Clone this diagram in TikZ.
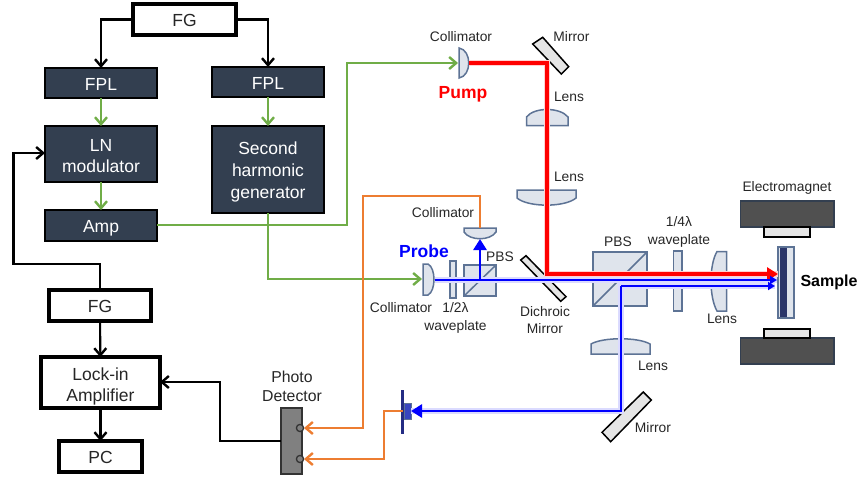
\documentclass[tikz,border=0pt]{standalone}
\usepackage{fontspec}
\setmainfont{Liberation Sans}
\usetikzlibrary{arrows.meta,calc}
\definecolor{boxdark}{HTML}{333F50}
\definecolor{optfill}{HTML}{DFE4EC}
\definecolor{optline}{HTML}{5D7395}
\definecolor{txt}{HTML}{262626}
\definecolor{gr}{HTML}{70AD47}
\definecolor{orng}{HTML}{ED7D31}
\definecolor{magnet}{HTML}{505050}
\definecolor{bluebeam}{HTML}{0000FF}
\definecolor{redbeam}{HTML}{FF0000}
\newcommand{\fs}[1]{\fontsize{#1}{#1}\selectfont}
\tikzset{
  barb/.style={-{Straight Barb[length=7pt,width=12pt,line width=2.4pt]}},
  darkbox/.style={draw=black,line width=1.5pt,fill=boxdark,text=white,align=center,inner sep=0pt,outer sep=0pt,font=\fs{17.5},execute at begin node=\setlength{\baselineskip}{21.7pt}},
  whitebox/.style={draw=black,line width=3.2pt,fill=white,text=txt,align=center,inner sep=0pt,outer sep=0pt,font=\fs{17.5},execute at begin node=\setlength{\baselineskip}{21pt}},
  oneline/.style={text height=14pt,text depth=0pt},
  lbl/.style={text=txt,align=center,inner sep=0pt,font=\fs{13.8},execute at begin node=\setlength{\baselineskip}{17.5pt}},
  blk/.style={draw=black,line width=2.1pt},
  grn/.style={draw=gr,line width=2.6pt},
  org/.style={draw=orng,line width=2.6pt},
  opt/.style={draw=optline,fill=optfill,line width=1.5pt},
  mirrorpart/.style={draw=black,fill=gray!20,line width=1.5pt},
  glowR/.style={draw=redbeam!18,line width=6pt},
  glowB/.style={draw=bluebeam!14,line width=5.5pt},
  beamR/.style={draw=redbeam,line width=3.2pt},
  beamB/.style={draw=bluebeam,line width=2.7pt},
}
\begin{document}
\begin{tikzpicture}[x=1pt,y=-1pt]
\useasboundingbox (0,0) rectangle (861,479);
% control boxes
\node[whitebox,oneline,minimum width=103pt,minimum height=31pt] (fgt) at (184.5,19.5) {FG};
\node[darkbox,oneline,minimum width=112pt,minimum height=30pt] (fpll) at (101,83) {FPL};
\node[darkbox,oneline,minimum width=112pt,minimum height=30pt] (fplr) at (268,82) {FPL};
\node[darkbox,minimum width=112pt,minimum height=56pt] (ln) at (101,154) {\rule{0pt}{16pt}LN\\modulator};
\node[darkbox,minimum width=112pt,minimum height=87pt] (shg) at (268,169.5) {\rule{0pt}{18pt}Second\\harmonic\\generator};
\node[darkbox,oneline,minimum width=112pt,minimum height=31pt] (amp) at (101,225.5) {Amp};
\node[whitebox,oneline,minimum width=102pt,minimum height=31pt] (fgb) at (100,305.5) {FG};
\node[whitebox,minimum width=119pt,minimum height=51pt] (lock) at (100.5,382.5) {\rule{0pt}{20pt}Lock-in\\Amplifier};
\node[whitebox,oneline,minimum width=83pt,minimum height=31pt] (pc) at (100.5,456.5) {PC};
\draw[blk,barb] (fgt.west) -| (fpll.north);
\draw[blk,barb] (fgt.east) -| (fplr.north);
\draw[grn,barb] (fpll) -- (ln);
\draw[grn,barb] (fplr) -- (shg);
\draw[grn,barb] (ln) -- (amp);
\draw[blk,barb] (fgb.north) -- (100,264) -- (13.5,264) -- (13.5,153) -- (ln.west |- 0,153);
\draw[blk,barb] (fgb) -- (lock);
\draw[blk,barb] (lock) -- (pc);
% optics shapes
\coordinate (collT) at (469,63);
\coordinate (mirT) at (547,63);
\coordinate (dichC) at (547,274);
\coordinate (sampR) at (778,274);
\coordinate (collP) at (435,280);
\coordinate (pbsS) at (480,280);
\coordinate (sampB) at (777,280);
\coordinate (retS) at (621,286);
\coordinate (sampC) at (775,286);
\coordinate (mirB) at (621,411);
\coordinate (detS) at (411,411);
\coordinate (collS) at (480,239);
\coordinate (collSt) at (480,228);
\coordinate (collPin) at (422,279);
\coordinate (collTin) at (458,63);
\path[mirrorpart] (532.7,44) -- (542.7,37.3) -- (568.7,66.7) -- (561.3,74) -- cycle;
\path[mirrorpart] (520.7,260) -- (526,255.7) -- (566,296.7) -- (560.7,301.3) -- cycle;
\path[mirrorpart] (602,432.3) -- (610.7,441.7) -- (651.3,400) -- (643.3,392) -- cycle;
\path[opt] (459,48) .. controls (472,50) and (472,76) .. (459,78) -- cycle;
\path[opt] (526.5,125.7) -- (526.5,117) .. controls (534,107) and (560,107) .. (568,117) -- (568,125.7) -- cycle;
\path[opt] (517,190) -- (517,198) .. controls (528,207.5) and (565,207.5) .. (576,198) -- (576,190) -- cycle;
\path[opt] (464,228) -- (496,228) -- (496,232) .. controls (490,241) and (470,241) .. (464,232) -- cycle;
\path[opt] (464,265) rectangle (496,296);
\draw[optline,line width=1.5pt] (464,296) -- (496,265);
\path[opt] (450,261) rectangle (456,298);
\path[opt] (423,264) -- (428,264) .. controls (436,268) and (436,291) .. (428,295) -- (423,295) -- cycle;
\path[opt] (593,252) rectangle (647,306);
\draw[optline,line width=1.5pt] (593,306) -- (647,252);
\path[opt] (673.5,251) rectangle (682,311);
\path[opt] (726.5,251.5) -- (717,251.5) .. controls (709,265) and (709,297) .. (717,311) -- (726.5,311) -- cycle;
\path[opt] (591,354) -- (591,344) .. controls (603,337) and (638,337) .. (650,344) -- (650,354) -- cycle;
% magnets and sample
\path[draw=boxdark,fill=magnet,line width=1.3pt] (740.5,201) rectangle (834,227);
\path[draw=black,fill=gray!20,line width=1.5pt] (764,227) rectangle (810,237);
\path[draw=boxdark,fill=magnet,line width=1.3pt] (740.5,338) rectangle (834,364);
\path[draw=black,fill=gray!20,line width=1.5pt] (764,329) rectangle (810,338);
\path[draw=optline,fill=optfill,line width=1.6pt] (778,247) rectangle (794,318);
\path[fill=boxdark!85!blue] (779.5,248) rectangle (787,317);
% detector
\path[fill=boxdark!70!blue] (401,390) rectangle (404,434);
\path[fill=optline!60!blue,draw=optline] (404,403) rectangle (411,419);
\coordinate (detB) at (403,411);
% photo detector
\node[draw=black!80,fill=gray,line width=1.6pt,minimum width=21pt,minimum height=66pt,inner sep=0pt,outer sep=0pt] (pd) at (291.3,441) {};
\draw[draw=black!80,fill=gray,line width=1.3pt] (300,428) circle (3.6);
\draw[draw=black!80,fill=gray,line width=1.3pt] (300,459) circle (3.6);
\coordinate (pdA) at (304,428);
\coordinate (pdB) at (304,459);
% connectors
\draw[grn,barb] (amp.east |- 0,225) -- (347,225) -- (347,63) -- (collTin);
\draw[grn,barb] (shg.south) -- (268,279) -- (collPin);
\draw[blk,barb] (pd.west) -- (220,441) -- (220,382) -- (lock.east |- 0,382);
\draw[org,barb] (collSt) -- (480,196) -- (363,196) -- (363,428) -- (pdA);
\draw[org,barb] (detB) -- (384,411) -- (384,459) -- (pdB);
% beams
\draw[glowR] (collT) -- (mirT) -- (dichC) -- (sampR);
\draw[glowB] (collP) -- (sampB);
\draw[glowB] (sampC) -- (retS) -- (mirB) -- (detS);
\draw[beamR,-{Triangle[length=11pt,width=13pt]}] (collT) -- (mirT) -- (dichC) -- (sampR);
\draw[beamB,-{Triangle[length=7pt,width=8pt]}] (collP) -- (sampB);
\draw[beamB,-{Triangle[length=7pt,width=8pt]}] (retS) -- (sampC);
\draw[beamB,-{Triangle[length=11pt,width=13pt]}] (retS) -- (mirB) -- (detS);
\draw[beamB,-{Triangle[length=11pt,width=13pt]}] (pbsS) -- (collS);
% labels
\node[lbl] (l1) at (461,37) {Collimator};
\node[lbl] (l2) at (571.5,37) {Mirror};
\node[lbl] (l3) at (569,97) {Lens};
\node[lbl] (l4) at (569,177) {Lens};
\node[lbl] (l5) at (443,213) {Collimator};
\node[lbl] (l6) at (500,257) {PBS};
\node[lbl] (l7) at (401,308) {Collimator};
\node[lbl] (l8) at (455.5,318) {1/2λ\\waveplate};
\node[lbl] (l9) at (545,320) {Dichroic\\Mirror};
\node[lbl] (l10) at (618,242) {PBS};
\node[lbl] (l11) at (679,232) {1/4λ\\waveplate};
\node[lbl] (l12) at (787,188) {Electromagnet};
\node[lbl] (l13) at (722,319) {Lens};
\node[lbl] (l14) at (653,366) {Lens};
\node[lbl] (l15) at (653,428) {Mirror};
\node[lbl,font=\fs{15.8},execute at begin node=\setlength{\baselineskip}{19pt}] (l16) at (292,386.5) {Photo\\Detector};
\node[inner sep=0pt,text=black,font=\fs{16}\bfseries] (l17) at (829,282) {Sample};
\node[inner sep=0pt,text=redbeam,font=\fs{17.5}\bfseries] (l18) at (463,94) {Pump};
\node[inner sep=0pt,text=bluebeam,font=\fs{17.5}\bfseries] (l19) at (424,251) {Probe};
\end{tikzpicture}
\end{document}
